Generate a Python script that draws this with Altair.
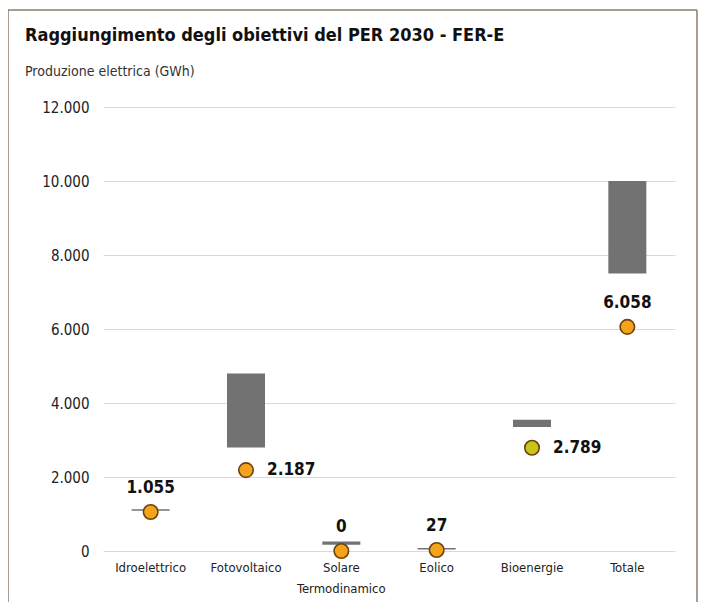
import altair as alt
import pandas as pd

categories = ["Idroelettrico", "Fotovoltaico", "Solare Termodinamico", "Eolico", "Bioenergie", "Totale"]
target_low = [1090, 2800, 170, 40, 3350, 7500]
target_high = [1130, 4800, 260, 80, 3550, 10000]
actual = [1055, 2187, 0, 27, 2789, 6058]
actual_text = ["1.055", "2.187", "0", "27", "2.789", "6.058"]
label_pos = ["top", "right", "top", "top", "right", "top"]
dot_color = ["#F5A31A", "#F5A31A", "#F5A31A", "#F5A31A", "#C9C41A", "#F5A31A"]

title_text = "Raggiungimento degli obiettivi del PER 2030 - FER-E"
subtitle_text = "Produzione elettrica (GWh)"

FONT = "DejaVu Sans Condensed, Roboto, sans-serif"

df = pd.DataFrame({
    "cat": categories,
    "low": target_low,
    "high": target_high,
    "val": actual,
    "txt": actual_text,
    "pos": label_pos,
    "col": dot_color,
})

x = alt.X("cat:N", sort=categories, title=None,
          scale=alt.Scale(paddingInner=0, paddingOuter=0),
          axis=alt.Axis(labelAngle=0, domain=False, ticks=False, labelFont=FONT,
                        labelFontSize=13, labelColor="#222", labelPadding=10,
                        labelExpr="split(datum.label, ' ')", labelLineHeight=21))
y_scale = alt.Scale(domain=[0, 12000], nice=False)

base = alt.Chart(df)

bars = base.mark_bar(size=38, color="#727272").encode(
    x=x,
    y=alt.Y("low:Q", scale=y_scale, title=None,
            axis=alt.Axis(values=[0, 2000, 4000, 6000, 8000, 10000, 12000],
                          domain=False, ticks=False, labelFont=FONT, labelFontSize=15,
                          labelColor="#222", labelPadding=14, gridColor="#D9D9D9",
                          labelExpr="replace(format(datum.value, ','), ',', '.')")),
    y2="high:Q",
)

dots = base.mark_point(filled=True, size=210, shape="circle", stroke="#6B4210",
                       strokeWidth=1.6, opacity=1).encode(
    x=x,
    y=alt.Y("val:Q", scale=y_scale),
    fill=alt.Fill("col:N", scale=None),
)

top_labels = base.transform_filter("datum.pos == 'top'").mark_text(
    font=FONT, fontSize=17, fontWeight="bold", color="#111", baseline="bottom", dy=-15
).encode(x=x, y=alt.Y("val:Q", scale=y_scale), text="txt:N")

right_labels = base.transform_filter("datum.pos == 'right'").mark_text(
    font=FONT, fontSize=17, fontWeight="bold", color="#111", align="left",
    baseline="middle", dx=21
).encode(x=x, y=alt.Y("val:Q", scale=y_scale), text="txt:N")

tdf = pd.DataFrame({"t": [title_text], "s": [subtitle_text]})
title = alt.Chart(tdf).mark_text(font=FONT, fontSize=18, fontWeight="bold", color="#111",
                                 align="left", baseline="alphabetic").encode(
    x=alt.value(-78), y=alt.value(-66), text="t:N")
subtitle = alt.Chart(tdf).mark_text(font=FONT, fontSize=14, color="#333",
                                    align="left", baseline="alphabetic").encode(
    x=alt.value(-78), y=alt.value(-31), text="s:N")

border_color = "#8C7B6B"
b_left = alt.Chart(tdf).mark_rule(color=border_color, strokeWidth=1.5).encode(
    x=alt.value(-95), y=alt.value(-97), y2=alt.value(600))
b_right = alt.Chart(tdf).mark_rule(color=border_color, strokeWidth=1.5).encode(
    x=alt.value(594), y=alt.value(-97), y2=alt.value(600))
b_top = alt.Chart(tdf).mark_rule(color=border_color, strokeWidth=1.5).encode(
    x=alt.value(-95), x2=alt.value(594), y=alt.value(-97))

chart = alt.layer(bars, dots, top_labels, right_labels, title, subtitle,
                  b_left, b_right, b_top).properties(
    width=572, height=444,
    autosize=alt.AutoSizeParams(type="none"),
    padding={"left": 95, "top": 99, "right": 32, "bottom": 51},
    background="white",
).configure_view(stroke=None)

chart.save("out.html", embed_options={"renderer": "svg", "actions": False})
